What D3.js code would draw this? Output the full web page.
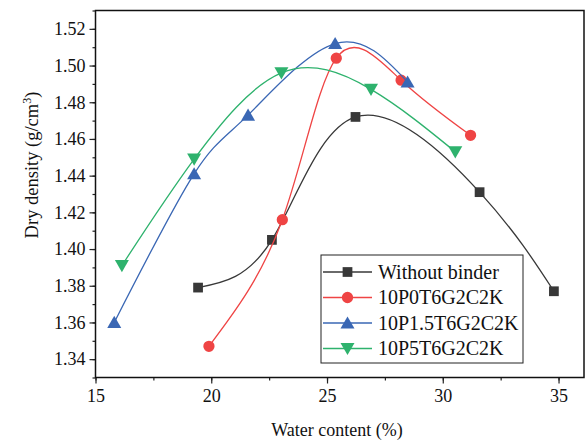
<!DOCTYPE html>
<html>
<head>
<meta charset="utf-8">
<script src="https://cdn.jsdelivr.net/npm/d3@7"></script>
<style>
  body { margin: 0; background: #fff; }
  svg text { font-family: "Liberation Serif", "Times New Roman", serif; fill: #111; }
</style>
</head>
<body>
<div id="chart"></div>
<script>
// data
var seriesNames = ["Without binder", "10P0T6G2C2K", "10P1.5T6G2C2K", "10P5T6G2C2K"];
var colors = ["#383838", "#ef4444", "#3a67b4", "#2eb26d"];
var symbols = ["square", "circle", "triangle", "triangleDown"];

var waterNone = [19.43, 22.62, 26.23, 31.59, 34.8];
var densNone = [1.379, 1.405, 1.472, 1.431, 1.377];

var waterP0 = [19.9, 23.07, 25.4, 28.2, 31.2];
var densP0 = [1.347, 1.416, 1.504, 1.492, 1.462];

var waterP15 = [15.81, 19.26, 21.59, 25.35, 28.48];
var densP15 = [1.360, 1.441, 1.473, 1.512, 1.491];

var waterP5 = [16.14, 19.26, 23.03, 26.9, 30.54];
var densP5 = [1.391, 1.449, 1.496, 1.487, 1.453];

var xTicks = [15, 20, 25, 30, 35];
var yTicks = [1.34, 1.36, 1.38, 1.40, 1.42, 1.44, 1.46, 1.48, 1.50, 1.52];

var allWater = [waterNone, waterP0, waterP15, waterP5];
var allDens = [densNone, densP0, densP15, densP5];

// sizes
var svgWidth = 588;
var svgHeight = 442;
var margin = { top: 10.5, right: 4, bottom: 64.5, left: 95.5 };
var width = svgWidth - margin.left - margin.right;
var height = svgHeight - margin.top - margin.bottom;
var serif = "'Liberation Serif', 'Times New Roman', serif";

var svg = d3.select("#chart")
    .append("svg")
    .attr("width", svgWidth)
    .attr("height", svgHeight);

var chart = svg.append("g")
    .attr("transform", `translate(${margin.left}, ${margin.top})`);

var x = d3.scaleLinear().domain([15, 36.1]).range([0, width]);
var y = d3.scaleLinear().domain([1.33, 1.53]).range([height, 0]);

// minor ticks
var xMinor = d3.range(15, 36, 2.5);
var yMinor = d3.range(1.33, 1.531, 0.01).map(d => +d.toFixed(2));

chart.append("g")
    .attr("transform", `translate(0, ${height})`)
    .call(d3.axisBottom(x).tickValues(xMinor).tickSize(3).tickFormat(""))
    .call(g => g.select(".domain").remove());

chart.append("g")
    .call(d3.axisLeft(y).tickValues(yMinor).tickSize(3).tickFormat(""))
    .call(g => g.select(".domain").remove());

var xAxis = chart.append("g")
    .attr("transform", `translate(0, ${height})`)
    .call(d3.axisBottom(x).tickValues(xTicks).tickSize(6).tickPadding(6).tickFormat(d3.format("d")));
xAxis.select(".domain").remove();

var yAxis = chart.append("g")
    .call(d3.axisLeft(y).tickValues(yTicks).tickSize(6).tickPadding(4).tickFormat(d3.format(".2f")));
yAxis.select(".domain").remove();

chart.selectAll("g").attr("font-family", null);
chart.selectAll(".tick line").attr("stroke", "#222").attr("stroke-width", 1.2);
chart.selectAll(".tick text")
    .style("font-family", serif)
    .style("font-size", "18px")
    .attr("fill", "#111");

// curves
var line = d3.line()
    .x(d => x(d[0]))
    .y(d => y(d[1]))
    .curve(d3.curveNatural);

var symbolType = {
    square: d3.symbolSquare,
    circle: d3.symbolCircle,
    triangle: d3.symbolTriangle,
    triangleDown: d3.symbolTriangle
};
var symbolSize = { square: 95, circle: 100, triangle: 85, triangleDown: 85 };

function drawMarker(g, kind, color, px, py) {
    var rot = kind === "triangleDown" ? 180 : 0;
    var dy = kind === "triangle" ? 1.5 : (kind === "triangleDown" ? -1.5 : 0);
    g.append("path")
        .attr("d", d3.symbol().type(symbolType[kind]).size(symbolSize[kind])())
        .attr("transform", `translate(${px}, ${py + dy}) rotate(${rot})`)
        .attr("fill", color);
}

allWater.forEach(function(wx, i) {
    var pts = wx.map((w, j) => [w, allDens[i][j]]);
    chart.append("path")
        .datum(pts)
        .attr("d", line)
        .attr("fill", "none")
        .attr("stroke", colors[i])
        .attr("stroke-width", 1.3);
    var mg = chart.append("g");
    pts.forEach(function(p) {
        drawMarker(mg, symbols[i], colors[i], x(p[0]), y(p[1]));
    });
});

// frame
chart.append("rect")
    .attr("width", width)
    .attr("height", height)
    .attr("fill", "none")
    .attr("stroke", "#111")
    .attr("stroke-width", 1.5);

// legend
var legend = svg.append("g").attr("transform", "translate(321, 255)");
legend.append("rect")
    .attr("width", 202)
    .attr("height", 108)
    .attr("fill", "#fff")
    .attr("stroke", "#222")
    .attr("stroke-width", 1);

seriesNames.forEach(function(name, i) {
    var ly = 17 + i * 25.5;
    legend.append("line")
        .attr("x1", 2).attr("x2", 51)
        .attr("y1", ly).attr("y2", ly)
        .attr("stroke", colors[i])
        .attr("stroke-width", 1.3);
    drawMarker(legend, symbols[i], colors[i], 26.5, ly);
    legend.append("text")
        .attr("x", 57)
        .attr("y", ly + 6.5)
        .style("font-size", "20px")
        .text(name);
});

// axis titles
svg.append("text")
    .attr("x", 337)
    .attr("y", 436)
    .attr("text-anchor", "middle")
    .style("font-size", "18px")
    .text("Water content (%)");

var yTitle = svg.append("text")
    .attr("transform", "translate(38, 165) rotate(-90)")
    .attr("text-anchor", "middle")
    .style("font-size", "18.5px");
yTitle.append("tspan").text("Dry density (g/cm");
yTitle.append("tspan").style("font-size", "12px").attr("dy", "-7").text("3");
yTitle.append("tspan").attr("dy", "7").text(")");
</script>
</body>
</html>
